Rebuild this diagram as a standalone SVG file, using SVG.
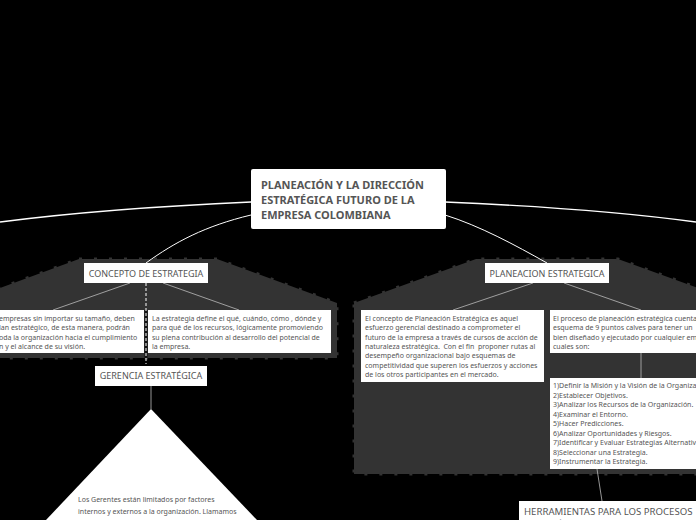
<svg xmlns="http://www.w3.org/2000/svg" width="696" height="520" viewBox="0 0 696 520">
<style>
text{font-family:"Noto Sans","Open Sans",sans-serif;fill:#555}
.box{fill:#fff}
.zone{fill:#333;stroke:#333;stroke-width:3;stroke-dasharray:3 12}
.edge{fill:none;stroke:#fff}
.thin{fill:none;stroke:#bbb;stroke-width:.8}
.t{font-size:7px}
.h{font-size:9px}
.big{font-size:9.6px}
.root{font-size:11px;font-weight:700}
</style>
<rect width="696" height="520" fill="#000"/>
<g id="zones">
<path class="zone" d="M79 259H217L337 303V358H-41V303Z"/>
<path class="zone" d="M354 303L476 259H618L740 303V474H354Z"/>
</g>
<g id="connectors">
<path class="edge" stroke-width="1.4" d="M251 202C160 206 70 213 0 222"/>
<path class="edge" stroke-width="1.4" d="M445 202C540 206 630 213 696 222"/>
<path class="edge" stroke-width="1" d="M251 215C205 226 175 242 146 263"/>
<path class="edge" stroke-width="1" d="M445 215C480 226 515 245 547 263"/>
<path class="thin" d="M130 283L53 310"/>
<path class="thin" d="M163 283L239 310"/>
<path class="thin" d="M533 283L453 310"/>
<path class="thin" d="M564 283L641 310"/>
<path class="thin" d="M641 353V378"/>
<path class="thin" d="M597 469L602 501"/>
<path d="M146 310V358" fill="none" stroke="#111" stroke-width="3"/>
<path class="edge" stroke-width="1" stroke-dasharray="3 2" d="M146 283V364"/>
<path class="thin" stroke-width="1" d="M151 386V409"/>
</g>
<g id="root"><rect class="box" x="251" y="169" width="195" height="60" rx="2"/>
<text class="root" x="261" y="189">PLANEACIÓN Y LA DIRECCIÓN</text><text class="root" x="261" y="204">ESTRATÉGICA FUTURO DE LA</text><text class="root" x="261" y="219">EMPRESA COLOMBIANA</text></g>
<g id="concepto"><rect class="box" x="84" y="263" width="124" height="20"/><text class="h" x="146" y="277" text-anchor="middle">CONCEPTO DE ESTRATEGIA</text></g>
<g id="concepto-a"><rect class="box" x="-2" y="310" width="146" height="43"/>
<text class="t" x="-1" y="320.500">empresas sin importar su tamaño, deben</text><text class="t" x="-1" y="330">lan estratégico, de esta manera, podrán</text><text class="t" x="-1" y="339.500">oda la organización hacia el cumplimiento</text><text class="t" x="-1" y="349">n y el alcance de su visión.</text></g>
<g id="concepto-b"><rect class="box" x="148" y="310" width="183" height="43"/>
<text class="t" x="152" y="320.500">La estrategia define el qué, cuándo, cómo , dónde y</text><text class="t" x="152" y="330">para qué de los recursos, lógicamente promoviendo</text><text class="t" x="152" y="339.500">su plena contribución al desarrollo del potencial de</text><text class="t" x="152" y="349">la empresa.</text></g>
<g id="gerencia"><rect class="box" x="95" y="366" width="112" height="20"/><text class="h" x="151" y="379" text-anchor="middle">GERENCIA ESTRATÉGICA</text></g>
<g id="gerencia-detalle"><path class="box" d="M151 409L257 520H46Z"/>
<text class="t" x="78" y="502">Los Gerentes están limitados por factores</text><text class="t" x="78" y="514">internos y externos a la organización. Llamamos</text></g>
<g id="planeacion"><rect class="box" x="485" y="263" width="124" height="20"/><text class="h" x="547" y="277" text-anchor="middle">PLANEACION ESTRATEGICA</text></g>
<g id="planeacion-a"><rect class="box" x="361" y="310" width="183" height="72"/>
<text class="t" x="365" y="320.500">El concepto de Planeación Estratégica es aquel</text><text class="t" x="365" y="330">esfuerzo gerencial destinado a comprometer el</text><text class="t" x="365" y="339.500">futuro de la empresa a través de cursos de acción de</text><text class="t" x="365" y="349" xml:space="preserve">naturaleza estratégica.  Con el fin  proponer rutas al</text><text class="t" x="365" y="358">desempeño organizacional bajo esquemas de</text><text class="t" x="365" y="367.500">competitividad que superen los esfuerzos y acciones</text><text class="t" x="365" y="377">de los otros participantes en el mercado.</text></g>
<g id="planeacion-b"><rect class="box" x="550" y="310" width="150" height="43"/>
<text class="t" x="553" y="320.500">El proceso de planeación estratégica cuenta</text><text class="t" x="553" y="330">esquema de 9 puntos calves para tener un</text><text class="t" x="553" y="339.500">bien diseñado y ejecutado por cualquier em</text><text class="t" x="553" y="349">cuales son:</text></g>
<g id="pasos"><rect class="box" x="550" y="378" width="150" height="91"/>
<text class="t" x="553" y="388">1)Definir la Misión y la Visión de la Organiza</text><text class="t" x="553" y="398">2)Establecer Objetivos.</text><text class="t" x="553" y="407">3)Analizar los Recursos de la Organización.</text><text class="t" x="553" y="417">4)Examinar el Entorno.</text><text class="t" x="553" y="426">5)Hacer Predicciones.</text><text class="t" x="553" y="436">6)Analizar Oportunidades y Riesgos.</text><text class="t" x="553" y="445">7)Identificar y Evaluar Estrategias Alternativ</text><text class="t" x="553" y="455">8)Seleccionar una Estrategia.</text><text class="t" x="553" y="464">9)Instrumentar la Estrategia.</text></g>
<g id="herramientas"><rect class="box" x="519" y="501" width="185" height="24"/><text class="big" x="524" y="515">HERRAMIENTAS PARA LOS PROCESOS</text><text class="big" x="524" y="527.500">ESTRATÉGICAS</text></g>
</svg>
